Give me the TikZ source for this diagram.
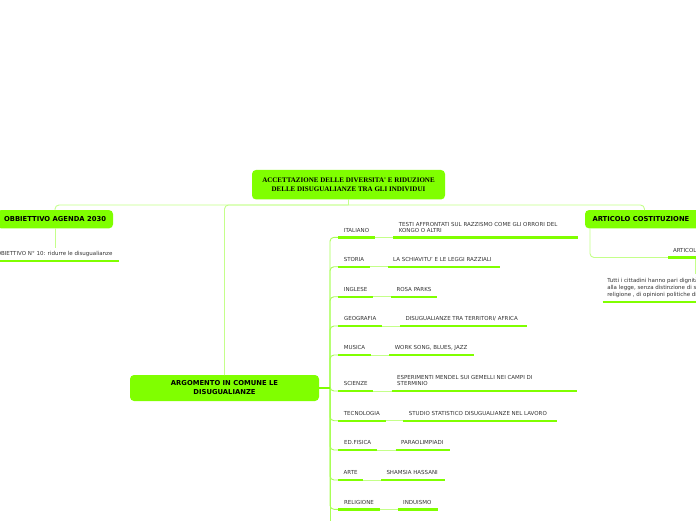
\documentclass[tikz,border=0pt]{standalone}
\usepackage{fontspec}
\setmainfont{DejaVu Sans}
\newfontfamily\topserif{Liberation Serif}
\definecolor{nodegreen}{HTML}{80FF00}
\definecolor{conngreen}{HTML}{C4FF8A}
\definecolor{trunkgreen}{HTML}{A8FF55}
\definecolor{txtgray}{HTML}{333333}
\newcommand\twolines[2]{\begin{tabular}[b]{@{}l@{}}#1\\#2\end{tabular}}
\newcommand\mmrow[7]{%
  \node[leafnode, minimum width={(#4-338)*1pt}] (s#1) at (338,#2) {#3};
  \node[leafnode] (d#1) at (#5,#2) {#7};
  \draw[branch, rounded corners=4pt] (tr) |- (s#1.south west);
  \draw[conn] (s#1.south east) -- (d#1.south west);
  \draw[ul] (s#1.south west) -- (s#1.south east);
  \draw[ul] (d#1.south west) -- ++(#6-#5,0);
}
\begin{document}
\begin{tikzpicture}[x=1pt,y=-1pt,
  mainbox/.style={fill=nodegreen, rounded corners=4pt, align=center, inner sep=0pt, outer sep=0pt, text=black},
  leafnode/.style={anchor=south west, font=\fontsize{5.5}{5.8}\selectfont, text=txtgray, inner xsep=5.5pt, inner ysep=4pt, text depth=1.3pt, outer sep=0pt},
  conn/.style={draw=conngreen, line width=0.9pt},
  branch/.style={draw=trunkgreen, line width=0.9pt},
  ul/.style={draw=nodegreen, line width=2.4pt}
]
\clip (0,0) rectangle (696,520);
\fill[white] (0,0) rectangle (696,520);

% main nodes
\node[mainbox, font=\topserif\bfseries\fontsize{7}{8.3}\selectfont, minimum width=193pt, minimum height=29.5pt] (top) at (348.5,184.7) {ACCETTAZIONE DELLE DIVERSITA' E RIDUZIONE\\DELLE DISUGUALIANZE TRA GLI INDIVIDUI};
\node[mainbox, font=\bfseries\fontsize{6.8}{9}\selectfont, minimum width=189pt, minimum height=26pt] (arg) at (224.5,388) {ARGOMENTO IN COMUNE LE\\DISUGUALIANZE};
\node[mainbox, anchor=east, font=\bfseries\fontsize{6.8}{8}\selectfont, inner xsep=7pt, minimum height=18.3pt] (left) at (113,219.2) {OBBIETTIVO AGENDA 2030};
\node[mainbox, anchor=west, align=left, text width=104pt, font=\bfseries\fontsize{6.8}{8}\selectfont, inner xsep=7.5pt, minimum height=18.3pt] (right) at (585,219.2) {ARTICOLO COSTITUZIONE};

% top connectors
\coordinate (hub) at (348.5,205);
\draw[conn] (top.south) -- (hub);
\draw[conn, rounded corners=4pt] (hub) -| (left.north);
\draw[conn, rounded corners=4pt] (hub) -| (arg.north);
\draw[conn, rounded corners=4pt] (hub) -| (right.north);

% left branch
\node[leafnode, anchor=south east, inner xsep=6.5pt] (ob) at (119,261) {OBIETTIVO N° 10: ridurre le disugualianze};
\draw[conn] (left.south) -- (left.south |- ob.north);
\draw[ul] (ob.south west) -- (ob.south east);

% right branch
\node[leafnode, inner xsep=5pt] (art) at (668,257.5) {ARTICOLO};
\draw[conn, rounded corners=4pt] ([xshift=5pt]right.south west) |- (art.south west);
\node[leafnode, inner xsep=4.6pt, font=\fontsize{5.5}{6.8}\selectfont] (tutti) at (602.7,301.7) {\begin{tabular}[b]{@{}l@{}}Tutti i cittadini hanno pari dignità sociale e sono eguali davanti\\alla legge, senza distinzione di sesso, di razza, di lingua, di\\religione , di opinioni politiche di condizioni personali e sociali.\end{tabular}};
\coordinate (artdrop) at (695,257.5);
\draw[conn] (artdrop) -- (artdrop |- tutti.north);
\draw[ul] (art.south west) -- ++(40,0);
\draw[ul] (tutti.south west) -- ++(100,0);

% trunk
\coordinate (tr) at (330,388);
\coordinate (trb) at (330,530);
\draw[branch] (tr) -- (trb);

\mmrow{1}{237.3}{ITALIANO}{375}{393.3}{578.3}{\twolines{TESTI AFFRONTATI SUL RAZZISMO COME GLI ORRORI DEL}{KONGO O ALTRI}}
\mmrow{2}{266.7}{STORIA}{370}{387.7}{500}{LA SCHIAVITU' E LE LEGGI RAZZIALI}
\mmrow{3}{296.7}{INGLESE}{373.3}{391}{437.3}{ROSA PARKS}
\mmrow{4}{326}{GEOGRAFIA}{382.3}{400}{527.3}{DISUGUALIANZE TRA TERRITORI/ AFRICA}
\mmrow{5}{355}{MUSICA}{371}{389.3}{474.3}{WORK SONG, BLUES, JAZZ}
\mmrow{6}{391}{SCIENZE}{373.3}{391.7}{576.7}{\twolines{ESPERIMENTI MENDEL SUI GEMELLI NEI CAMPI DI}{STERMINIO}}
\mmrow{7}{420.7}{TECNOLOGIA}{385.7}{403.3}{557.3}{STUDIO STATISTICO DISUGUALIANZE NEL LAVORO}
\mmrow{8}{450}{ED.FISICA}{377.3}{395.7}{450}{PARAOLIMPIADI}
\mmrow{9}{480}{ARTE}{363.3}{381}{444.7}{SHAMSIA HASSANI}
\mmrow{10}{509.3}{RELIGIONE}{380}{397.7}{437.7}{INDUISMO}

\draw[draw=nodegreen, line width=2pt] (arg.east) -- (tr);
\end{tikzpicture}
\end{document}
